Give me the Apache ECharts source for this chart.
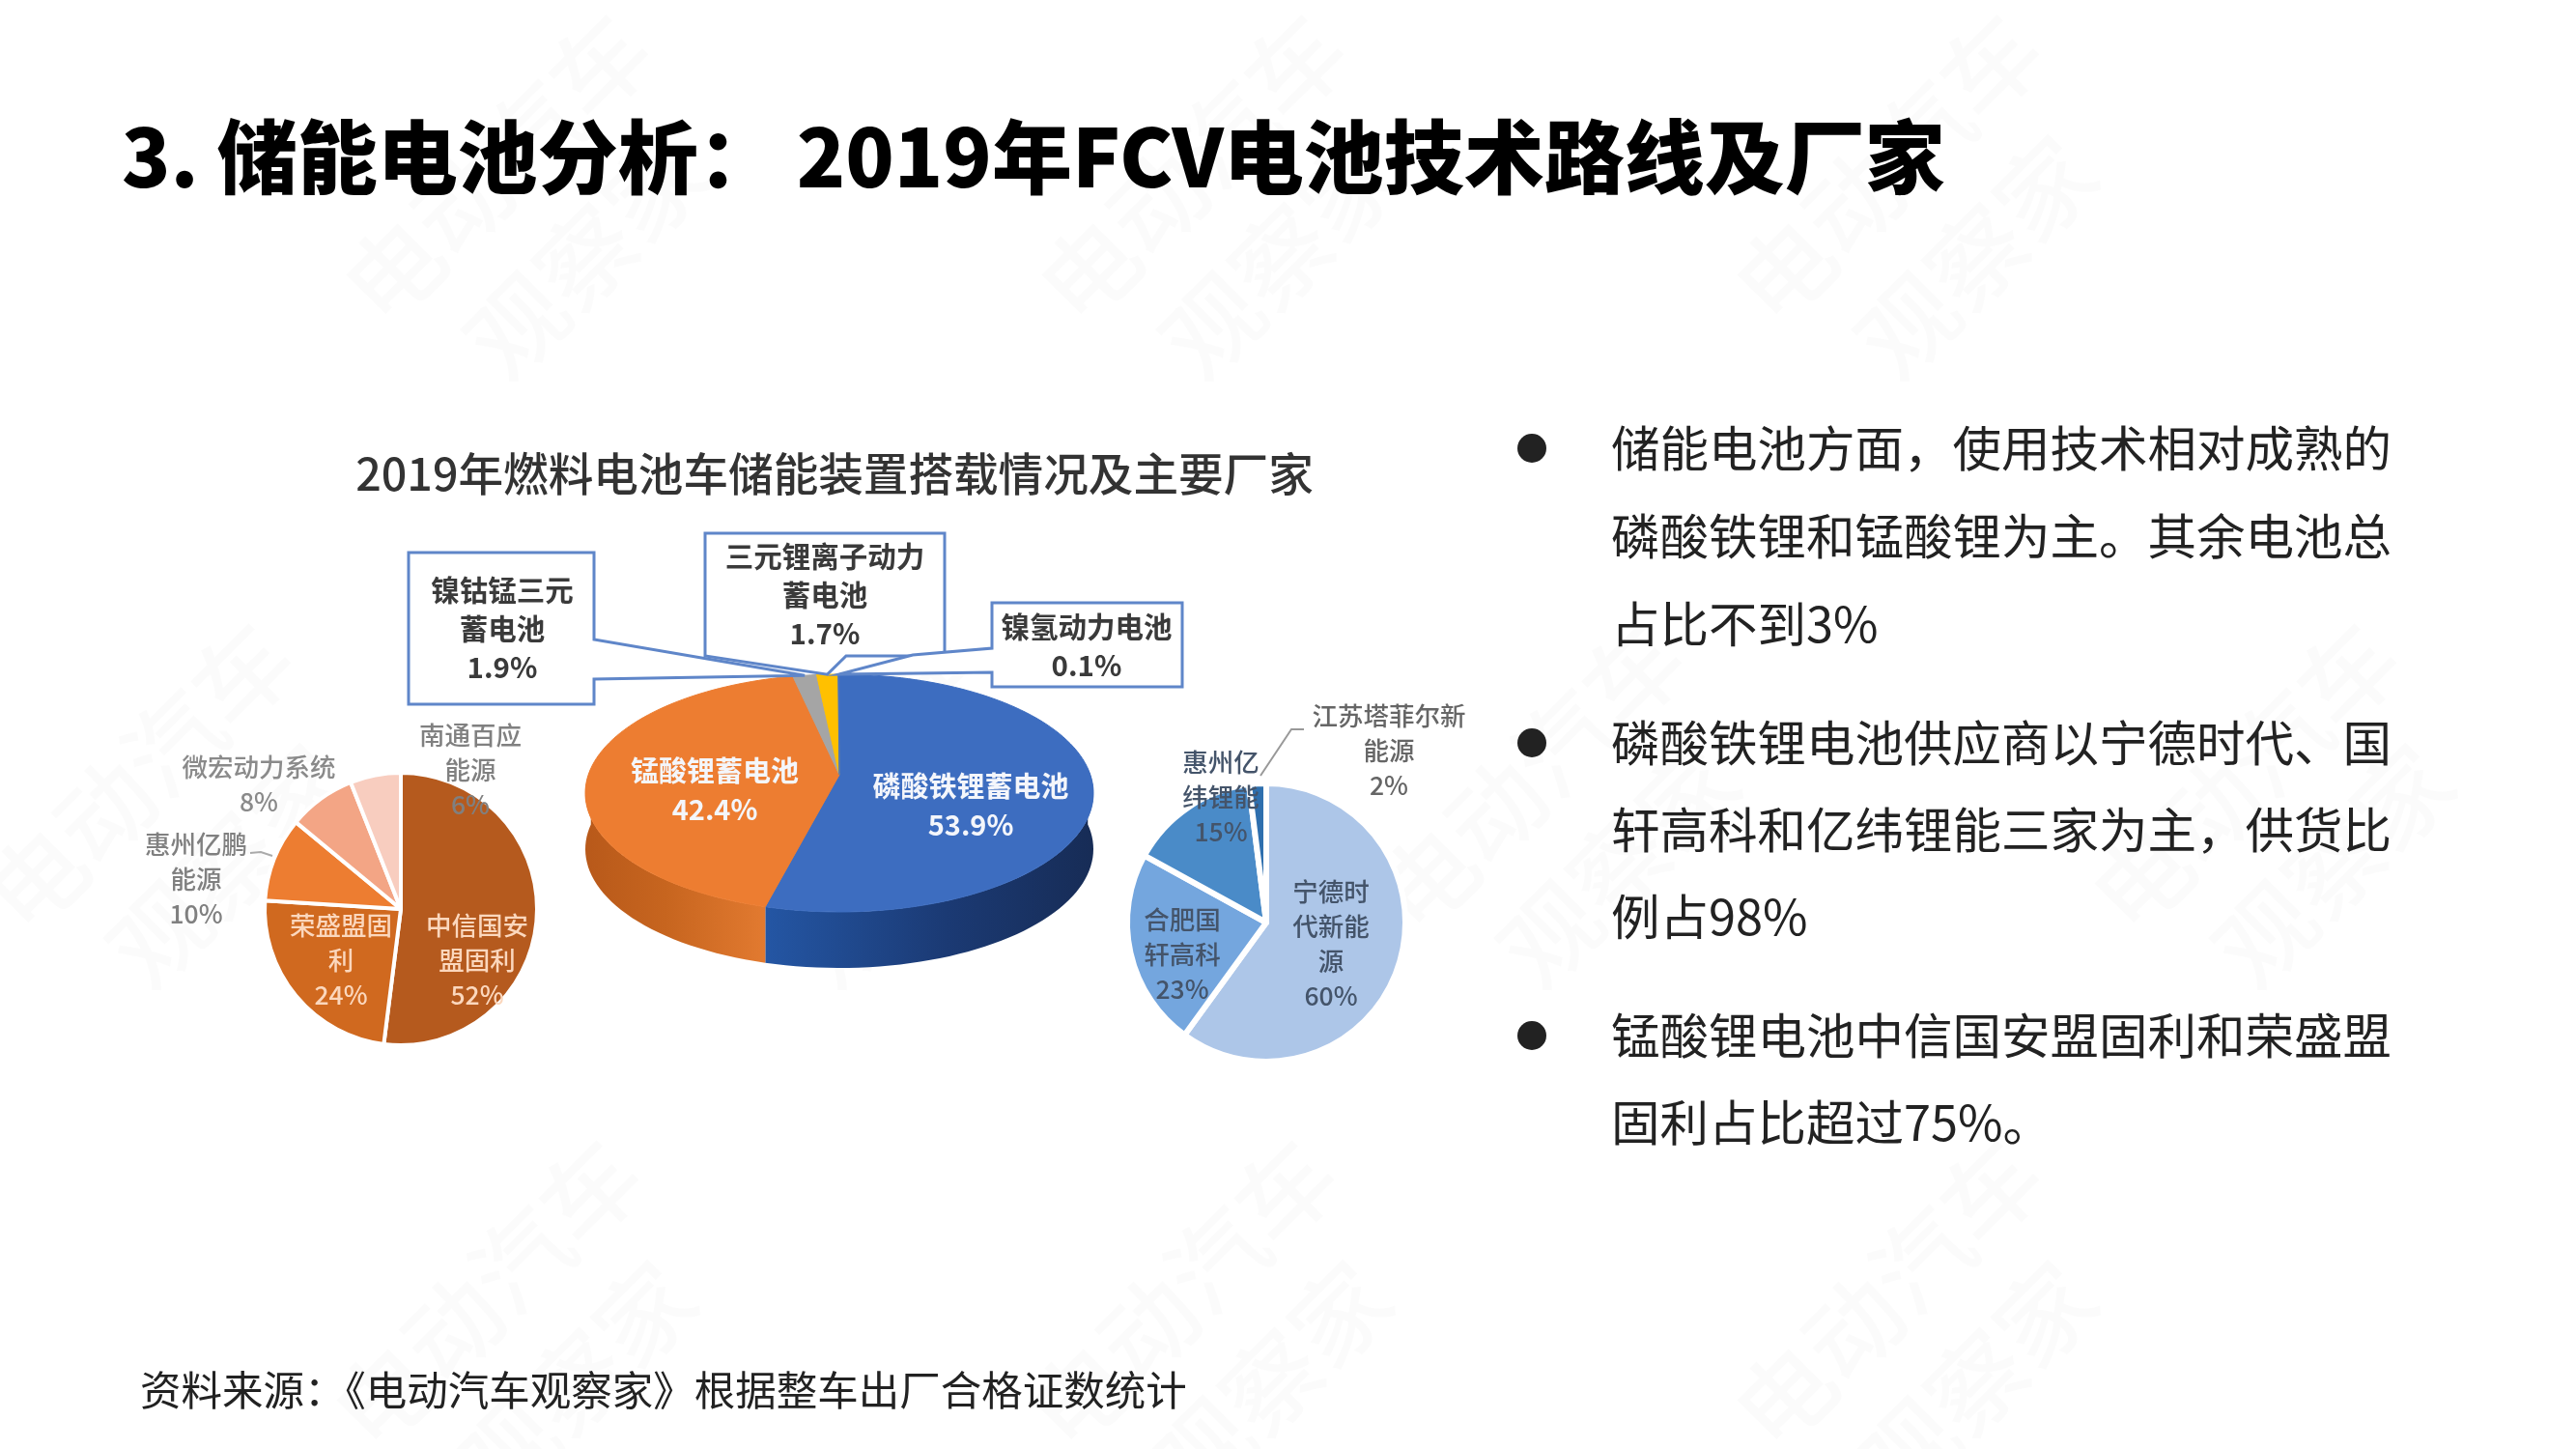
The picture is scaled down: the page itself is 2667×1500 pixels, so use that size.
<!DOCTYPE html>
<html>
<head>
<meta charset="utf-8">
<style>html,body{margin:0;padding:0;background:#fff}#c{width:2667px;height:1500px}</style>
<script src="https://cdn.jsdelivr.net/npm/echarts@6/dist/echarts.min.js"></script>
</head>
<body>
<div id="c"></div>
<script>
// ---- data ----
const pageTitle = '3. 储能电池分析： 2019年FCV电池技术路线及厂家';
const chartTitle = '2019年燃料电池车储能装置搭载情况及主要厂家';
const sourceNote = '资料来源：《电动汽车观察家》根据整车出厂合格证数统计';
const bodyLines = [
  '储能电池方面，使用技术相对成熟的', '磷酸铁锂和锰酸锂为主。其余电池总', '占比不到3%',
  '磷酸铁锂电池供应商以宁德时代、国', '轩高科和亿纬锂能三家为主，供货比', '例占98%',
  '锰酸锂电池中信国安盟固利和荣盛盟', '固利占比超过75%。'
];
const mainNames = ['磷酸铁锂蓄电池', '锰酸锂蓄电池', '镍钴锰三元\n蓄电池', '三元锂离子动力\n蓄电池', '镍氢动力电池'];
const mainValues = [53.9, 42.4, 1.9, 1.7, 0.1];
const leftNames = ['中信国安\n盟固利', '荣盛盟固\n利', '惠州亿鹏\n能源', '微宏动力系统', '南通百应\n能源'];
const leftValues = [52, 24, 10, 8, 6];
const rightNames = ['宁德时\n代新能\n源', '合肥国\n轩高科', '惠州亿\n纬锂能', '江苏塔菲尔新\n能源'];
const rightValues = [60, 23, 15, 2];

// ---- layout & style ----
const CJK = '"Noto Sans CJK SC","Noto Sans",sans-serif';
const P3D = {cx: 869, cy: 821, rx: 263, ry: 123, apexY: 802, depth: 58, persp: 12};
const mainTop = ['#3d6dc0', '#ed7d31', '#a5a5a5', '#ffc000', '#4472c4'];
const mainWall = [['#2456a4', '#1b3a74', '#172c56'], ['#e27a30', '#c7651f', '#b8591a'], ['#888','#888','#888'], ['#c90','#c90','#c90'], ['#345','#345','#345']];
const mainLabelPos = [[1005, 834], [740, 818]];
const callouts = [
  null, null,
  {text: [520, 651], pts: (t) => [[423,572],[615,572],[615,662],t,[615,703],[615,729],[423,729]]},
  {text: [854, 616], pts: (t) => [[730,552],[978,552],[978,679],[876,679],t,[730,679]]},
  {text: [1125, 669], pts: (t) => [[1027,624],[1224,624],[1224,711],[1027,711],[1027,696],t,[945,678],[1027,671]]}
];
const leftColors = ['#b55a1e', '#d0691f', '#ed7d31', '#f3a585', '#f8cdbf'];
const rightColors = ['#adc6e8', '#74a6de', '#4a8bc8', '#2e6fae'];
const leftLabelPos = [[494,994,'#fbd7bd'],[353,994,'#fbd7bd'],[203,910,'#808080'],[268,812,'#8a8a8a'],[487,797,'#808080']];
const rightLabelPos = [[1378,977,'#44546a'],[1224,988,'#44546a'],[1264,825,'#44546a'],[1438,777,'#666']];
const bodyY = [464, 555, 646, 769, 859, 949, 1072, 1162];
const bulletY = [464, 769, 1072];
const watermarks = [[560,220],[1280,220],[2000,220],[190,850],[900,850],[1630,850],[2370,850],[550,1385],[1270,1385],[2000,1385]];

function rim(deg, dy) {
  const a0 = deg * Math.PI / 180;
  const a = (deg - P3D.persp * Math.sin(a0)) * Math.PI / 180;
  return [P3D.cx + P3D.rx * Math.sin(a), P3D.cy - P3D.ry * Math.cos(a) + (dy || 0)];
}
function sliceBounds(i) {
  const total = mainValues.reduce((s, v) => s + v, 0);
  const before = mainValues.slice(0, i).reduce((s, v) => s + v, 0);
  return [before / total * 360, (before + mainValues[i]) / total * 360];
}
function arc(a, b) {
  const out = [];
  const n = Math.max(2, Math.ceil((b - a) / 2));
  for (let k = 0; k <= n; k++) out.push(a + (b - a) * k / n);
  return out;
}
function renderMain(params, api) {
  const i = params.dataIndex;
  const [a, b] = sliceBounds(i);
  const children = [];
  const wa = Math.max(a, 90), wb = Math.min(b, 270);
  if (wb > wa) {
    const angs = arc(wa, wb);
    const pts = angs.map(d => rim(d)).concat(angs.slice().reverse().map(d => rim(d, P3D.depth)));
    const xs = pts.map(p => p[0]);
    const c = mainWall[i];
    const x0 = Math.min(...xs), x1 = Math.max(...xs);
    children.push({type: 'polygon', shape: {points: pts}, style: {
      fill: {type: 'linear', global: true, x: i === 0 ? x0 : x1, y: 0, x2: i === 0 ? x1 : x0, y2: 0,
        colorStops: [{offset: 0, color: c[0]}, {offset: .55, color: c[1]}, {offset: 1, color: c[2]}]},
      stroke: null}});
  }
  const top = [[P3D.cx, P3D.apexY]].concat(arc(a, b).map(d => rim(d)));
  children.push({type: 'polygon', shape: {points: top}, style: {fill: mainTop[i], stroke: mainTop[i], lineWidth: 1}});
  if (mainLabelPos[i]) {
    children.push({type: 'text', style: {
      text: mainNames[i] + '\n' + api.value(0) + '%',
      x: mainLabelPos[i][0], y: mainLabelPos[i][1], fill: '#f4f6fb',
      font: 'bold 29px ' + CJK, align: 'center', verticalAlign: 'middle', lineHeight: 40
    }});
  }
  return {type: 'group', children};
}
function renderCallout(params, api) {
  const i = params.dataIndex;
  const c = callouts[i];
  if (!c) return null;
  const [a, b] = sliceBounds(i);
  const tip = rim((a + b) / 2);
  return {type: 'group', children: [
    {type: 'polygon', shape: {points: c.pts(tip)}, style: {fill: '#fff', stroke: '#5f86c9', lineWidth: 3, lineJoin: 'miter'}},
    {type: 'text', style: {
      text: mainNames[i] + '\n' + api.value(0) + '%', x: c.text[0], y: c.text[1], fill: '#3a3a3a',
      font: 'bold 29.5px ' + CJK, align: 'center', verticalAlign: 'middle', lineHeight: 40
    }}
  ]};
}
function pieSeries(names, values, colors, pos, center, radius, border) {
  return {
    type: 'pie', center, radius, startAngle: 90, clockwise: true, silent: true, z: 3,
    avoidLabelOverlap: false, minAngle: 0,
    itemStyle: {borderColor: '#fff', borderWidth: border},
    labelLine: {show: false},
    labelLayout: (p) => ({x: pos[p.dataIndex][0], y: pos[p.dataIndex][1], align: 'center', verticalAlign: 'middle'}),
    data: names.map((n, i) => ({
      name: n, value: values[i], itemStyle: {color: colors[i]},
      label: {show: true, position: 'inside', formatter: '{b}\n{c}%', color: pos[i][2],
        fontFamily: CJK, fontSize: 26.5, fontWeight: 500, lineHeight: 36}
    }))
  };
}

const graphic = [];
watermarks.forEach(w => graphic.push({type: 'text', x: w[0], y: w[1], rotation: Math.PI / 4, z: 0, silent: true,
  style: {text: '电动汽车\n观察家', fill: 'rgba(0,0,0,0.016)', font: '500 100px ' + CJK, align: 'center', verticalAlign: 'middle', lineHeight: 130}}));
graphic.push({type: 'text', x: 126, y: 162, z: 5, style: {text: pageTitle, fill: '#000', font: '900 83px ' + CJK, verticalAlign: 'middle'}});
graphic.push({type: 'text', x: 864, y: 490, z: 5, style: {text: chartTitle, fill: '#333', font: '500 46.6px ' + CJK, align: 'center', verticalAlign: 'middle'}});
graphic.push({type: 'text', x: 145, y: 1439, z: 5, style: {text: sourceNote, fill: '#222', font: '400 42.5px ' + CJK, verticalAlign: 'middle'}});
bodyLines.forEach((t, i) => graphic.push({type: 'text', x: 1668, y: bodyY[i], z: 5, style: {text: t, fill: '#222', font: '400 50.5px ' + CJK, verticalAlign: 'middle'}}));
bulletY.forEach(y => graphic.push({type: 'circle', z: 5, shape: {cx: 1586, cy: y, r: 15}, style: {fill: '#222'}}));
graphic.push({type: 'polyline', z: 6, shape: {points: [[259, 883], [270, 882], [282, 886]]}, style: {stroke: '#aaa', lineWidth: 2, fill: null}});
graphic.push({type: 'polyline', z: 6, shape: {points: [[1350, 755], [1337, 755], [1305, 803]]}, style: {stroke: '#999', lineWidth: 2, fill: null}});

const chart = echarts.init(document.getElementById('c'), null, {width: 2667, height: 1500, renderer: 'canvas'});
chart.setOption({
  animation: false,
  backgroundColor: '#fff',
  tooltip: {show: false},
  graphic,
  series: [
    {type: 'custom', coordinateSystem: 'none', z: 2, silent: true, renderItem: renderMain, data: mainValues.map(v => [v])},
    {type: 'custom', coordinateSystem: 'none', z: 4, silent: true, renderItem: renderCallout, data: mainValues.map(v => [v])},
    pieSeries(leftNames, leftValues, leftColors, leftLabelPos, [415, 941], 141, 4),
    pieSeries(rightNames, rightValues, rightColors, rightLabelPos, [1311, 955], 144, 6)
  ]
});
</script>
</body>
</html>
